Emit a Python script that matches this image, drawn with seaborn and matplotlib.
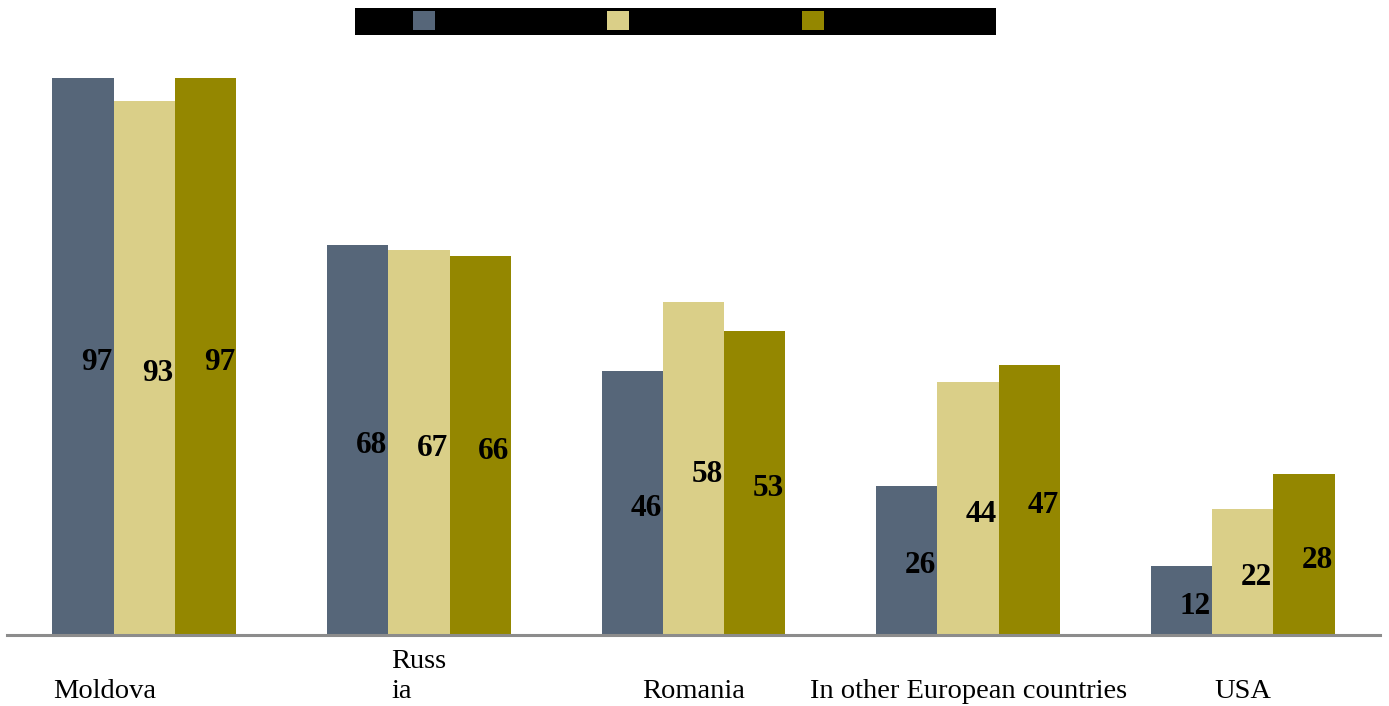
import matplotlib
matplotlib.use("Agg")
import matplotlib.pyplot as plt
import matplotlib.transforms as mtransforms
from matplotlib.patches import Rectangle
import seaborn as sns
import pandas as pd

categories = ["Moldova", "Russia", "Romania", "In other European countries", "USA"]
tick_labels = ["Moldova", "Russ\nia", "Romania", "In other European countries", "USA"]
series = ["Series 1", "Series 2", "Series 3"]
values_s1 = [97, 68, 46, 26, 12]
values_s2 = [93, 67, 58, 44, 22]
values_s3 = [97, 66, 53, 47, 28]
colors = ["#566679", "#dacf88", "#948700"]

rows = []
for s, vals in zip(series, [values_s1, values_s2, values_s3]):
    for c, v in zip(categories, vals):
        rows.append({"category": c, "series": s, "value": v})
df = pd.DataFrame(rows)

sns.set_style("white")
plt.rcParams["font.family"] = ["Liberation Serif", "DejaVu Serif"]

fig = plt.figure(figsize=(13.89, 7.06), dpi=100)
ax = fig.add_axes([7 / 1389, 71 / 706, 1373 / 1389, 574 / 706])
ax.patch.set_alpha(0)

sns.barplot(data=df, x="category", y="value", hue="series", order=categories,
            hue_order=series, palette=colors, saturation=1, width=0.67,
            ax=ax, legend=False, linewidth=0)

ax.set_ylim(0, 100)
ax.set_xlim(-0.5, 4.5)
ax.set_xlabel("")
ax.set_ylabel("")
ax.set_yticks([])
for sp in ["left", "right", "top"]:
    ax.spines[sp].set_visible(False)
ax.spines["bottom"].set_color("#8c8c8c")
ax.spines["bottom"].set_linewidth(2.2)

ax.tick_params(axis="x", length=0, pad=50, labelsize=20.5, labelcolor="black")
ax.set_xticks(range(len(categories)))
labels = ax.set_xticklabels(tick_labels)
for lab in labels:
    lab.set_va("bottom")
    lab.set_multialignment("left")
    lab.set_linespacing(1.3)
    lab.set_color("black")
labels[0].set_transform(labels[0].get_transform() +
                        mtransforms.ScaledTranslation(-40 / 100, 0, fig.dpi_scale_trans))

# value labels inside bars, right-aligned, vertically centred
for cont in ax.containers:
    for patch in cont.patches:
        h = patch.get_height()
        xr = patch.get_x() + patch.get_width()
        ax.annotate(f"{h:.0f}", xy=(xr, h / 2), xytext=(-1, -4), textcoords="offset points",
                    ha="right", va="center", fontsize=22.5, fontweight="bold", color="black")

# legend on black band
handles = [Rectangle((0, 0), 1, 1, facecolor=c, edgecolor="none") for c in colors]
fig.patches.append(Rectangle((355 / 1389, 1 - 35 / 706), 641 / 1389, 27 / 706,
                             transform=fig.transFigure, facecolor="black",
                             edgecolor="none", zorder=0))
leg = fig.legend(handles, series, loc="center left",
                 bbox_to_anchor=(415 / 1389 - 0.0015, 1 - 21.5 / 706),
                 ncol=3, frameon=False, fontsize=14, handlelength=1.13, handleheight=1.13,
                 handletextpad=0.8, columnspacing=4.85, borderpad=0, borderaxespad=0)
for t in leg.get_texts():
    t.set_color("black")

fig.savefig("out.png", dpi=100)
